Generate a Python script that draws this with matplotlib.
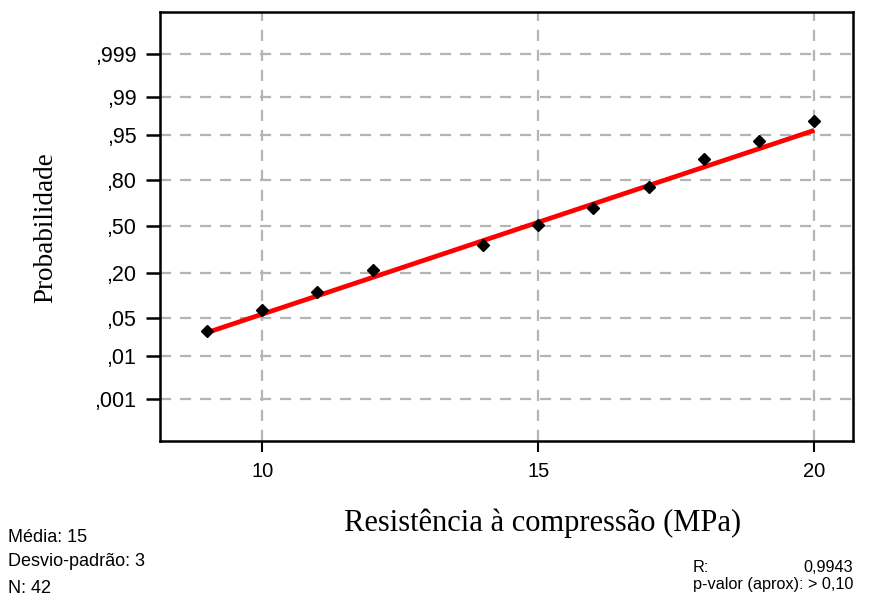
import matplotlib.pyplot as plt
import numpy as np
from statistics import NormalDist

nd = NormalDist()

# dados
resistencia = [9, 10, 11, 12, 14, 15, 16, 17, 18, 19, 20]
prob = [0.030, 0.066, 0.12, 0.22, 0.367, 0.514, 0.627, 0.758, 0.886, 0.937, 0.971]
media_ajuste = 14.77
dp_ajuste = 3.03
linha_x = [9, 20]

ticks_prob = [0.001, 0.01, 0.05, 0.20, 0.50, 0.80, 0.95, 0.99, 0.999]
ticks_lbl = [',001', ',01', ',05', ',20', ',50', ',80', ',95', ',99', ',999']
ticks_x = [10, 15, 20]

fig = plt.figure(figsize=(8.73, 5.99), dpi=100)
ax = fig.add_axes([0.1833, 0.2638, 0.7937, 0.7162])

z = [nd.inv_cdf(p) for p in prob]
lz = [(x - media_ajuste) / dp_ajuste for x in linha_x]

ax.plot(linha_x, lz, color='#ff0000', lw=3.4, solid_capstyle='butt', zorder=3)
ax.plot(resistencia, z, ls='none', marker='D', ms=6, color='black', zorder=4)

ax.set_xlim(8.15, 20.7)
ax.set_ylim(-3.85, 3.85)
ax.set_yticks([nd.inv_cdf(p) for p in ticks_prob])
ax.set_yticklabels(ticks_lbl)
ax.set_xticks(ticks_x)
ax.grid(True, color='#b4b4b4', ls=(0, (5, 4)), lw=1.6)
ax.set_axisbelow(True)

for s in ax.spines.values():
    s.set_linewidth(1.8)
ax.tick_params(axis='y', length=10, width=1.8, labelsize=15.5, pad=7)
ax.tick_params(axis='x', length=8, width=1.5, labelsize=14.5, pad=7)
for lbl in ax.get_xticklabels() + ax.get_yticklabels():
    lbl.set_family('Liberation Sans')

fig.text(0.052, 0.62, 'Probabilidade', family='Liberation Serif', fontsize=19.5,
         rotation=90, ha='center', va='center')
fig.text(0.621, 0.127, 'Resistência à compressão (MPa)', family='Liberation Serif',
         fontsize=22, ha='center', va='center')

fig.text(0.009, 0.102, 'Média: 15', family='Liberation Sans', fontsize=13, va='center')
fig.text(0.009, 0.063, 'Desvio-padrão: 3', family='Liberation Sans', fontsize=13, va='center')
fig.text(0.009, 0.018, 'N: 42', family='Liberation Sans', fontsize=13, va='center')
fig.text(0.793, 0.052, 'R:', family='Liberation Sans', fontsize=11.7, va='center')
fig.text(0.977, 0.052, '0,9943', family='Liberation Sans', fontsize=11.7, va='center', ha='right')
fig.text(0.977, 0.025, 'p-valor (aprox): > 0,10', family='Liberation Sans', fontsize=11.7,
         va='center', ha='right')

fig.savefig('out.png', dpi=100)
